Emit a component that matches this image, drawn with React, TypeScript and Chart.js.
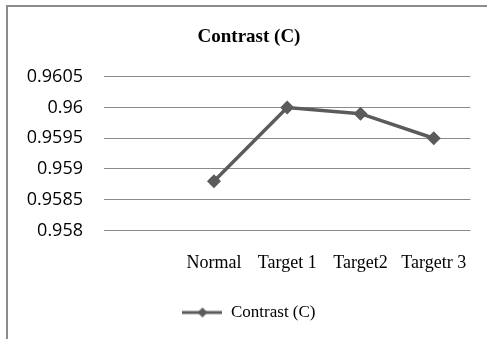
import React, { useEffect, useRef } from "react";
import { Chart, registerables } from "chart.js";

Chart.register(...registerables);

// Categories along the x axis (the first slot is left blank)
const categories: string[] = ["", "Normal", "Target 1", "Target2", "Targetr 3"];
// Contrast values per category
const contrastValues: (number | null)[] = [null, 0.9588, 0.96, 0.9599, 0.9595];
// Y axis range and tick step
const yMin = 0.958;
const yMax = 0.9605;
const yStep = 0.0005;

const seriesName = "Contrast (C)";
const lineColor = "#5b5b5b";
const gridColor = "#8a8a8a";
const serif = "'Liberation Serif', 'Times New Roman', serif";

function makeLegendSymbol(): HTMLCanvasElement {
  const c = document.createElement("canvas");
  c.width = 40;
  c.height = 12;
  const ctx = c.getContext("2d")!;
  ctx.strokeStyle = lineColor;
  ctx.lineWidth = 3;
  ctx.beginPath();
  ctx.moveTo(0, 6);
  ctx.lineTo(40, 6);
  ctx.stroke();
  ctx.fillStyle = lineColor;
  ctx.beginPath();
  ctx.moveTo(20, 1);
  ctx.lineTo(25, 6);
  ctx.lineTo(20, 11);
  ctx.lineTo(15, 6);
  ctx.closePath();
  ctx.fill();
  return c;
}

export default function App() {
  const canvasRef = useRef<HTMLCanvasElement | null>(null);

  useEffect(() => {
    if (!canvasRef.current) return;
    const symbol = makeLegendSymbol();
    const chart = new Chart(canvasRef.current, {
      type: "line",
      data: {
        labels: categories,
        datasets: [
          {
            label: seriesName,
            data: contrastValues,
            borderColor: lineColor,
            backgroundColor: lineColor,
            borderWidth: 3.5,
            pointStyle: "rectRot",
            pointRadius: 7,
            pointBackgroundColor: lineColor,
            pointBorderColor: lineColor,
            pointBorderWidth: 0,
            tension: 0,
            yAxisID: "y",
          },
        ],
      },
      options: {
        animation: false,
        responsive: false,
        maintainAspectRatio: false,
        layout: { padding: { left: 0, right: 0, top: 0, bottom: 8 } },
        plugins: {
          title: {
            display: true,
            text: seriesName,
            color: "#000",
            font: { family: serif, size: 19, weight: "bold" },
            padding: { top: 19, bottom: 28 },
          },
          legend: {
            display: true,
            position: "bottom",
            labels: {
              usePointStyle: true,
              pointStyle: symbol as any,
              pointStyleWidth: 40,
              boxHeight: 12,
              color: "#000",
              font: { family: serif, size: 17 },
              padding: 8,
            },
          },
          tooltip: { enabled: false },
        },
        scales: {
          x: {
            offset: true,
            grid: { display: false, drawTicks: false },
            border: { display: false },
            ticks: {
              color: "#000",
              font: { family: serif, size: 18 },
              padding: 22,
              maxRotation: 0,
              autoSkip: false,
            },
          },
          y: {
            min: yMin,
            max: yMax,
            afterFit: (scale: any) => {
              scale.width = 96;
            },
            grid: { color: gridColor, lineWidth: 1, drawTicks: false },
            border: { display: false },
            ticks: {
              stepSize: yStep,
              color: "#000",
              font: { family: "'Open Sans', sans-serif", size: 18 },
              padding: 21,
              callback: (v: any) => String(Math.round(Number(v) * 10000) / 10000),
            },
          },
          // blank right-hand margin beside the plot
          yRight: {
            position: "right",
            display: true,
            min: yMin,
            max: yMax,
            afterFit: (scale: any) => {
              scale.width = 18;
            },
            grid: { display: false, drawTicks: false },
            border: { display: false },
            ticks: { display: false },
          },
        },
      },
    });
    return () => chart.destroy();
  }, []);

  return (
    <div
      style={{
        position: "fixed",
        left: 6,
        top: 5,
        width: 484,
        height: 334,
        borderLeft: "2px solid #8c8c8c",
        borderTop: "2px solid #8c8c8c",
        background: "#fff",
      }}
    >
      <canvas ref={canvasRef} width={482} height={332} style={{ display: "block" }} />
    </div>
  );
}
